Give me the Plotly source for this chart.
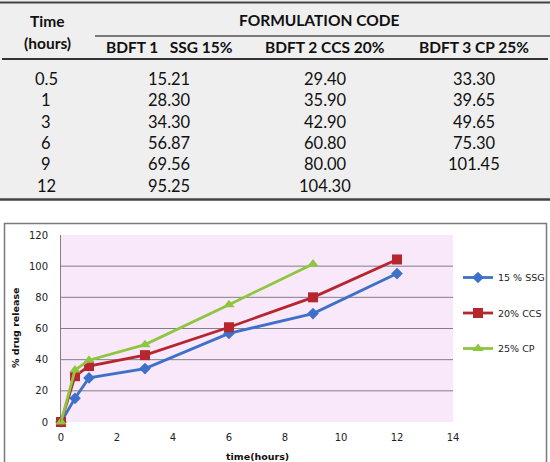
import plotly.graph_objects as go

# ---- data ----
time_labels = ["0.5", "1", "3", "6", "9", "12"]
col_headers = ["BDFT 1   SSG 15%", "BDFT 2 CCS 20%", "BDFT 3 CP 25%"]
ssg_table = ["15.21", "28.30", "34.30", "56.87", "69.56", "95.25"]
ccs_table = ["29.40", "35.90", "42.90", "60.80", "80.00", "104.30"]
cp_table = ["33.30", "39.65", "49.65", "75.30", "101.45", ""]

t_ssg = [0, 0.5, 1, 3, 6, 9, 12]
v_ssg = [0, 15.21, 28.30, 34.30, 56.87, 69.56, 95.25]
t_ccs = [0, 0.5, 1, 3, 6, 9, 12]
v_ccs = [0, 29.40, 35.90, 42.90, 60.80, 80.00, 104.30]
t_cp = [0, 0.5, 1, 3, 6, 9]
v_cp = [0, 33.30, 39.65, 49.65, 75.30, 101.45]

series_names = ["15 % SSG", "20% CCS", "25% CP"]
x_ticks = [0, 2, 4, 6, 8, 10, 12, 14]
x_ticktext = ["0", "2", "4", "6", "8", "10", "12", "14"]
y_ticks = [0, 20, 40, 60, 80, 100, 120]
grid_vals = [20, 40, 60, 80, 100]

W, H = 550, 462
X0, X1 = 61, 453  # plot area pixel extent
def px(x):
    return x / W
def py(y):
    return 1 - y / H
def pxd(x):
    return (x - X0) / (X1 - X0)

fig = go.Figure()
styles = [("#3d71c9", "diamond", 9), ("#b5262e", "square", 10), ("#8fc640", "triangle-up", 10)]
for (tx, vy, nm, (c, sym, sz)) in zip([t_ssg, t_ccs, t_cp], [v_ssg, v_ccs, v_cp], series_names, styles):
    fig.add_trace(go.Scatter(x=tx, y=vy, name=nm, mode="lines+markers", legendgroup=nm,
                             cliponaxis=False,
                             line=dict(color=c, width=2.8),
                             marker=dict(symbol=sym, size=sz, color=c)))

shapes = []
annotations = []
# table background
shapes.append(dict(type="rect", xref="paper", yref="paper", x0=0, x1=1, y0=py(200), y1=py(0),
                   fillcolor="#efefef", line=dict(width=0), layer="below"))

def hline(x0, x1, y, thick, color):
    shapes.append(dict(type="line", xref="x domain", yref="paper", x0=pxd(x0), x1=pxd(x1),
                       y0=py(y), y1=py(y), line=dict(color=color, width=thick)))

# table rules
hline(0, 550, 2.5, 1.8, "#444444")
hline(95, 550, 36, 1.3, "#555555")
hline(2, 548, 59, 2, "#333333")
hline(0, 550, 199.5, 2.3, "#444444")
# chart frame
shapes.append(dict(type="rect", xref="paper", yref="paper", x0=px(4.5), x1=px(546.5), y0=py(470), y1=py(223.5),
                   line=dict(color="#7a7a7a", width=1.5), fillcolor="rgba(0,0,0,0)"))
# grid lines
for g in grid_vals:
    shapes.append(dict(type="line", xref="x domain", yref="y", x0=0, x1=1, y0=g, y1=g,
                       line=dict(color="#7f7f8a", width=1), layer="below"))

tf = "Lato"
hdr = dict(family=tf, size=15.5, color="#111111")
num = dict(family=tf, size=16.5, color="#111111")
annotations.append(dict(text="<b>Time</b>", x=px(47), y=py(21), xref="paper", yref="paper",
                        showarrow=False, font=hdr, xanchor="center", yanchor="middle"))
annotations.append(dict(text="<b>(hours)</b>", x=px(47), y=py(43), xref="paper", yref="paper",
                        showarrow=False, font=hdr, xanchor="center", yanchor="middle"))
annotations.append(dict(text="<b>FORMULATION CODE</b>", x=px(319), y=py(20), xref="paper", yref="paper",
                        showarrow=False, font=hdr, xanchor="center", yanchor="middle"))
col_x = [169, 325, 474]
for cx, h in zip(col_x, col_headers):
    annotations.append(dict(text="<b>" + h.replace(" ", "&nbsp;") + "</b>", x=px(cx), y=py(47),
                            xref="paper", yref="paper", showarrow=False, font=hdr,
                            xanchor="center", yanchor="middle"))
row_y = [79, 100.5, 122, 143, 164, 185.5]
for i, ry in enumerate(row_y):
    annotations.append(dict(text=time_labels[i], x=px(46), y=py(ry), xref="paper", yref="paper",
                            showarrow=False, font=num, xanchor="center", yanchor="middle"))
    for cx, col in zip(col_x, [ssg_table, ccs_table, cp_table]):
        if col[i]:
            annotations.append(dict(text=col[i], x=px(cx), y=py(ry), xref="paper", yref="paper",
                                    showarrow=False, font=num, xanchor="center", yanchor="middle"))

cf = "DejaVu Sans"
annotations.append(dict(text="<b>time(hours)</b>", x=px(257), y=py(456), xref="paper", yref="paper",
                        showarrow=False, font=dict(family=cf, size=9.5, color="#111"),
                        xanchor="center", yanchor="middle"))
annotations.append(dict(text="<b>% drug release</b>", x=px(15), y=py(328), xref="paper", yref="paper",
                        showarrow=False, textangle=-90, font=dict(family=cf, size=9.5, color="#111"),
                        xanchor="center", yanchor="middle"))

fig.update_layout(
    width=W, height=H, margin=dict(l=0, r=0, t=0, b=0, autoexpand=False),
    paper_bgcolor="white", plot_bgcolor="#f9e8f9",
    shapes=shapes, annotations=annotations,
    xaxis=dict(domain=[px(X0), px(X1)], range=[0, 14], tickvals=x_ticks, ticktext=x_ticktext,
               showgrid=False, zeroline=False, showline=False, ticks="", automargin=False,
               tickfont=dict(family=cf, size=10, color="#222"), ticklabelstandoff=8),
    yaxis=dict(domain=[py(422), py(235)], range=[0, 120], tickvals=y_ticks, automargin=False,
               showgrid=False, zeroline=False, showline=True, linecolor="#7f7f8a", linewidth=1,
               ticks="", tickfont=dict(family=cf, size=10, color="#222"), ticklabelstandoff=10),
    showlegend=True,
    legend=dict(x=px(458), y=py(263), xanchor="left", yanchor="top", bgcolor="rgba(0,0,0,0)",
                font=dict(family=cf, size=9.5, color="#222"), tracegroupgap=16.5,
                itemwidth=30),
)

fig.write_html("out.html",
               post_script="document.body.style.margin='0';document.body.style.overflow='hidden';")
